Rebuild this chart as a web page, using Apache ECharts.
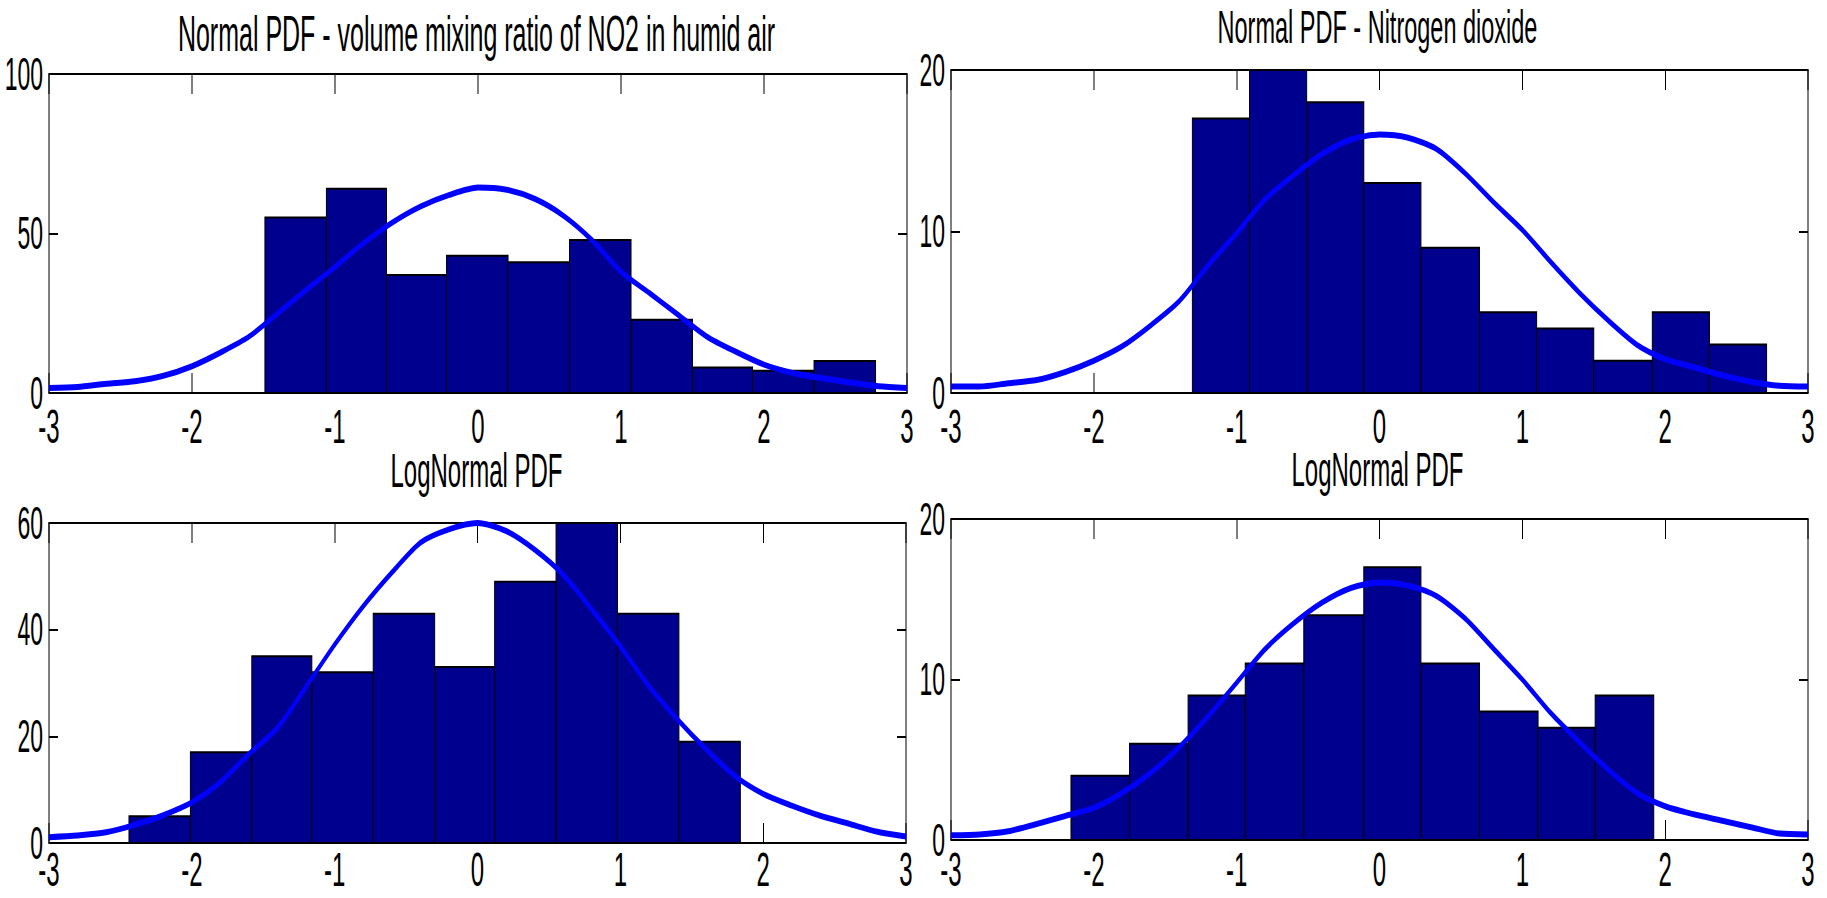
<!DOCTYPE html>
<html><head><meta charset="utf-8">
<script src="https://cdn.jsdelivr.net/npm/echarts@6/dist/echarts.min.js"></script>
<style>
html,body{margin:0;padding:0;background:#fff;overflow:hidden;width:1827px;height:898px;}
#wrap{width:1827px;height:898px;overflow:hidden;position:relative;}
#chart{width:3654px;height:898px;transform:scaleX(0.5);transform-origin:0 0;position:absolute;left:0;top:0;}
</style></head>
<body><div id="wrap"><div id="chart"></div></div>
<script>
// ---------- data ----------
const titles = [
  'Normal PDF - volume mixing ratio of NO2 in humid air',
  'Normal PDF - Nitrogen dioxide',
  'LogNormal PDF',
  'LogNormal PDF'
];
const xTicks = [-3, -2, -1, 0, 1, 2, 3];
const p1YTicks = [0, 50, 100];
const p2YTicks = [0, 10, 20];
const p3YTicks = [0, 20, 40, 60];
const p4YTicks = [0, 10, 20];

const p1Edges = [-1.49, -1.06, -0.64, -0.22, 0.21, 0.64, 1.07, 1.50, 1.92, 2.35, 2.78];
const p1Counts = [55, 64, 37, 43, 41, 48, 23, 8, 7, 10];
const p2Edges = [-1.31, -0.91, -0.51, -0.11, 0.29, 0.70, 1.10, 1.50, 1.91, 2.31, 2.71];
const p2Counts = [17, 20, 18, 13, 9, 5, 4, 2, 5, 3];
const p3Edges = [-2.44, -2.01, -1.58, -1.16, -0.73, -0.30, 0.12, 0.55, 0.98, 1.41, 1.84];
const p3Counts = [5, 17, 35, 32, 43, 33, 49, 60, 43, 19];
const p4Edges = [-2.16, -1.75, -1.34, -0.94, -0.53, -0.11, 0.29, 0.70, 1.11, 1.51, 1.92];
const p4Counts = [4, 6, 9, 11, 14, 17, 11, 8, 7, 9];

const curveX = [-3, -2.8, -2.6, -2.4, -2.2, -2, -1.8, -1.6, -1.4, -1.2, -1, -0.8, -0.6, -0.4, -0.2, 0,
                0.2, 0.4, 0.6, 0.8, 1, 1.2, 1.4, 1.6, 1.8, 2, 2.2, 2.4, 2.6, 2.8, 3];
const p1Curve = [1.6, 1.9, 2.9, 3.7, 5.4, 8.4, 12.7, 17.7, 25, 32.4, 39.5, 47, 53.4, 58.5, 62.1, 64.4,
                 63.7, 60.8, 55.5, 47.8, 38, 31.3, 24.5, 17.7, 13, 8.9, 6.3, 4.7, 3.3, 2.1, 1.6];
const p2Curve = [0.4, 0.4, 0.6, 0.8, 1.3, 2.0, 2.9, 4.2, 5.7, 7.9, 9.9, 12.0, 13.5, 14.8, 15.7, 16.0,
                 15.8, 15.1, 13.6, 11.8, 10.1, 8.1, 6.2, 4.5, 3.0, 2.1, 1.6, 1.1, 0.7, 0.45, 0.4];
const p3Curve = [1.1, 1.4, 2.0, 3.4, 5.2, 7.6, 11.4, 16.7, 21.6, 29.3, 37.2, 44.4, 50.7, 56.3, 58.8, 60,
                 58.5, 55, 50.3, 43.8, 36.9, 29.4, 23.2, 17.6, 12.6, 9.2, 7.0, 5.1, 3.6, 2.1, 1.2];
const p4Curve = [0.3, 0.35, 0.55, 1.0, 1.5, 2.0, 2.95, 4.2, 5.8, 7.7, 9.8, 11.9, 13.5, 14.8, 15.7, 16.05,
                 15.85, 15.2, 13.8, 11.9, 10.0, 7.9, 6.1, 4.4, 2.95, 2.1, 1.6, 1.2, 0.8, 0.4, 0.35];

// ---------- layout (unscaled space; container is squeezed horizontally by 0.5) ----------
const panels = [
  {edges: p1Edges, counts: p1Counts, curve: p1Curve, yTicks: p1YTicks,
   grid: {left: 98, top: 74, width: 1716, height: 319}, titleX: 953, titleY: 8, titleSize: 50, xLabelMargin: 17},
  {edges: p2Edges, counts: p2Counts, curve: p2Curve, yTicks: p2YTicks,
   grid: {left: 1902, top: 70, width: 1714, height: 323}, titleX: 2755, titleY: 3, titleSize: 47, xLabelMargin: 17},
  {edges: p3Edges, counts: p3Counts, curve: p3Curve, yTicks: p3YTicks,
   grid: {left: 98, top: 523, width: 1714, height: 320}, titleX: 953, titleY: 447, titleSize: 48, xLabelMargin: 10},
  {edges: p4Edges, counts: p4Counts, curve: p4Curve, yTicks: p4YTicks,
   grid: {left: 1902, top: 519, width: 1714, height: 321}, titleX: 2755, titleY: 446, titleSize: 48, xLabelMargin: 13}
];

const FONT = '"Liberation Sans", Arial, Helvetica, sans-serif';
const option = {
  backgroundColor: '#ffffff',
  animation: false,
  title: [], grid: [], xAxis: [], yAxis: [], series: []
};

panels.forEach((p, i) => {
  option.title.push({
    text: titles[i], left: p.titleX, top: p.titleY, padding: 0,
    textAlign: 'center', textVerticalAlign: 'top',
    textStyle: {fontFamily: FONT, fontSize: p.titleSize, fontWeight: 'normal', color: '#000'}
  });
  option.grid.push(Object.assign({containLabel: false}, p.grid));
  const lineStyle = {color: '#000', width: 2};
  const xBase = {
    type: 'value', gridIndex: i, min: xTicks[0], max: xTicks[xTicks.length - 1],
    interval: xTicks[1] - xTicks[0], splitLine: {show: false},
    axisLine: {show: true, onZero: false, lineStyle: lineStyle},
    axisTick: {show: true, inside: true, length: 20, lineStyle: {color: '#000', width: 2}}
  };
  option.xAxis.push(Object.assign({}, xBase, {
    position: 'bottom',
    axisLabel: {show: true, color: '#000', fontFamily: FONT, fontSize: 48, lineHeight: 34, margin: p.xLabelMargin}
  }));
  option.xAxis.push(Object.assign({}, xBase, {position: 'top', axisLabel: {show: false}}));
  const yBase = {
    type: 'value', gridIndex: i, min: p.yTicks[0], max: p.yTicks[p.yTicks.length - 1],
    interval: p.yTicks[1] - p.yTicks[0], splitLine: {show: false},
    axisLine: {show: true, onZero: false, lineStyle: lineStyle},
    axisTick: {show: true, inside: true, length: 18, lineStyle: {color: '#000', width: 2}}
  };
  option.yAxis.push(Object.assign({}, yBase, {
    position: 'left',
    axisLabel: {show: true, color: '#000', fontFamily: FONT, fontSize: 46, lineHeight: 34, margin: 12}
  }));
  option.yAxis.push(Object.assign({}, yBase, {position: 'right', axisLabel: {show: false}}));

  const binData = p.counts.map((c, k) => [p.edges[k], p.edges[k + 1], c]);
  option.series.push({
    type: 'custom', xAxisIndex: 2 * i, yAxisIndex: 2 * i,
    data: binData, encode: {x: [0, 1], y: 2},
    renderItem: function (params, api) {
      const a = api.coord([api.value(0), 0]);
      const b = api.coord([api.value(1), api.value(2)]);
      return {
        type: 'rect',
        shape: {x: a[0], y: b[1], width: b[0] - a[0], height: a[1] - b[1]},
        style: {fill: '#00008F', stroke: '#000000', lineWidth: 2}
      };
    }
  });
  option.series.push({
    type: 'line', xAxisIndex: 2 * i, yAxisIndex: 2 * i, z: 5,
    data: curveX.map((x, k) => [x, p.curve[k]]),
    showSymbol: false, smooth: 0.25,
    lineStyle: {color: '#0000FF', width: 6}, itemStyle: {color: '#0000FF'}
  });
});

const chart = echarts.init(document.getElementById('chart'), null, {renderer: 'svg'});
chart.setOption(option);
</script>
</body></html>
